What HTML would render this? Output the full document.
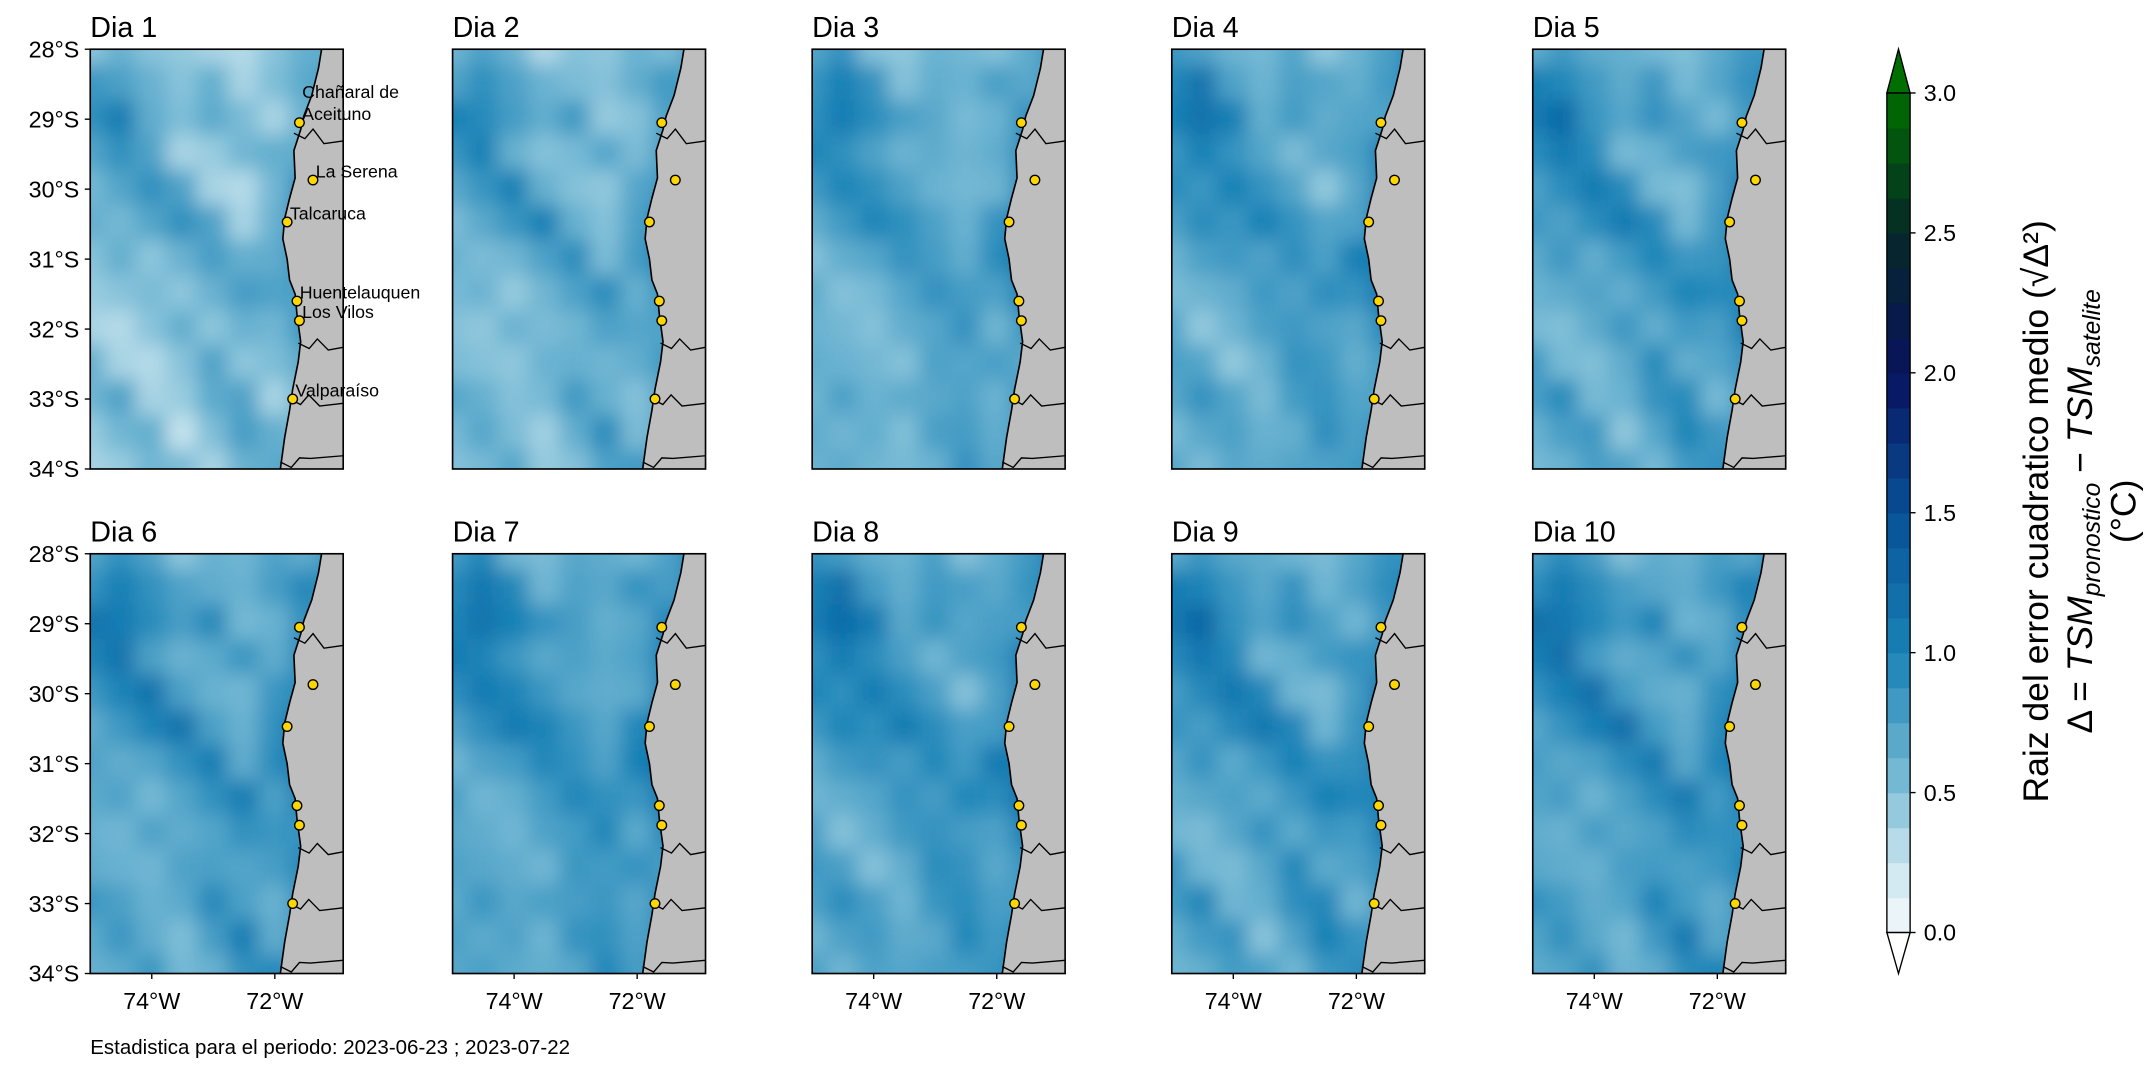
<!DOCTYPE html>
<html><head><meta charset="utf-8"><style>
body{margin:0;background:#fff;width:2144px;height:1072px;overflow:hidden;font-family:"Liberation Sans","DejaVu Sans",sans-serif;}
</style></head><body>
<svg id="fig" width="2144" height="1072" xmlns="http://www.w3.org/2000/svg" font-family="Liberation Sans, DejaVu Sans, sans-serif"></svg>
<script>
const NS='http://www.w3.org/2000/svg';
const days=['Dia 1','Dia 2','Dia 3','Dia 4','Dia 5','Dia 6','Dia 7','Dia 8','Dia 9','Dia 10'];
const dayOffset=[-0.15,-0.08,-0.02,0.03,0.04,0.05,0.07,0.08,0.07,0.09];
const latTicks=[28,29,30,31,32,33,34];
const latLabels=['28°S','29°S','30°S','31°S','32°S','33°S','34°S'];
const lonTicks=[-74,-72];
const lonLabels=['74°W','72°W'];
const cbTicks=[0,0.5,1,1.5,2,2.5,3];
const cbLabels=['0.0','0.5','1.0','1.5','2.0','2.5','3.0'];
const stNames=['Chañaral de\nAceituno','La Serena','Talcaruca','Huentelauquen','Los Vilos','Valparaíso'];
const stLon=[-71.6,-71.38,-71.8,-71.64,-71.6,-71.71];
const stLat=[29.05,29.87,30.47,31.6,31.88,33.0];
const coastLon=[-71.24,-71.29,-71.4,-71.53,-71.58,-71.69,-71.67,-71.76,-71.84,-71.87,-71.8,-71.76,-71.67,-71.64,-71.58,-71.62,-71.71,-71.76,-71.84,-71.91];
const coastLat=[28,28.27,28.66,28.96,29.15,29.45,29.84,30.13,30.42,30.71,31.0,31.3,31.5,31.79,32.18,32.47,32.86,33.16,33.55,34];
const field=[
[0.7,0.8,0.6,0.5,0.6,0.5,0.6,0.7,0.9],
[0.9,1.0,0.8,0.6,0.7,0.6,0.7,0.8,0.9],
[1.0,1.1,0.9,0.7,0.8,0.6,0.6,0.8,0.9],
[0.9,1.0,0.8,0.6,0.6,0.7,0.7,0.9,1.0],
[0.8,0.9,1.0,0.8,0.6,0.5,0.7,1.0,1.1],
[0.7,0.8,0.9,1.0,0.8,0.6,0.8,1.1,1.2],
[0.6,0.7,0.7,0.8,0.9,0.7,0.9,1.1,1.2],
[0.6,0.6,0.6,0.7,0.8,0.9,0.8,1.0,1.1],
[0.6,0.5,0.6,0.7,0.7,0.8,0.7,0.9,1.0],
[0.7,0.6,0.5,0.6,0.8,0.7,0.7,0.8,1.0],
[0.7,0.8,0.6,0.6,0.8,0.8,0.6,0.8,1.0],
[0.6,0.7,0.7,0.5,0.7,0.9,0.7,0.8,1.0],
[0.6,0.6,0.7,0.6,0.6,0.8,0.8,0.9,1.0]];
const panelX=[66,331,594,857,1121], panelY=[36,405], PW=185, PH=307;
const lon0=-75;
const svg=document.getElementById('fig');
const root=document.createElementNS(NS,'g');
root.setAttribute('transform','scale(1.3673)');
svg.appendChild(root);
function el(t,a,p){const e=document.createElementNS(NS,t);for(const k in a)e.setAttribute(k,a[k]);(p||root).appendChild(e);return e;}
const stops=[[0,[247,251,252]],[0.25,[200,228,238]],[0.5,[130,192,216]],[1.0,[24,130,182]],[1.5,[8,80,150]],[2.0,[8,18,94]],[2.5,[6,40,40]],[3.0,[0,110,0]]];
function col(v){v=Math.max(0,Math.min(3,v));for(let i=1;i<stops.length;i++){if(v<=stops[i][0]){const a=stops[i-1],b=stops[i],t=(v-a[0])/(b[0]-a[0]);const c=a[1].map((x,j)=>Math.round(x+(b[1][j]-x)*t));return 'rgb('+c.join(',')+')';}}return 'rgb(0,110,0)';}
const defs=el('defs',{});
const f=el('filter',{id:'blur',x:'-20%',y:'-20%',width:'140%',height:'140%'},defs);
el('feGaussianBlur',{stdDeviation:'7'},f);
days.forEach((d,i)=>{
  const px=panelX[i%5], py=panelY[Math.floor(i/5)];
  const X=lon=>px+(lon-lon0)*45, Y=lat=>py+(lat-28)*PH/6;
  const g=el('g',{});
  
  
  const cp=el('clipPath',{id:'cp'+i},defs);el('rect',{x:px,y:py,width:PW,height:PH},cp);
  const fg=el('g',{'clip-path':'url(#cp'+i+')'},g);
  el('rect',{x:px,y:py,width:PW,height:PH,fill:col(0.75+dayOffset[i])},fg);
  const bg=el('g',{filter:'url(#blur)'},fg);
  field.forEach((row,r)=>row.forEach((v,c)=>{
    const lon=-75+c*0.5, lat=28+r*0.5;
    const cell=el('rect',{x:X(lon)-12,y:Y(lat)-14,width:24,height:28,fill:col(v+dayOffset[i]+((r*3+c*5+i)%4-1.5)*0.06)},bg);
    
    
  }));
  let pts=coastLon.map((l,k)=>X(l)+','+Y(coastLat[k])).join(' ');
  const land=el('polygon',{points:pts+' '+(px+PW+5)+','+(py+PH)+' '+(px+PW+5)+','+py,fill:'#bebebe',stroke:'none'},fg);
  
  
  el('polyline',{points:pts,fill:'none',stroke:'#000','stroke-width':1.2},fg);
  [[29.2,29.35],[32.2,32.3],[33.0,33.1],[33.9,33.85]].forEach(b=>{
    const ci=coastLat.findIndex(v=>v>=b[0]);const cx=X(coastLon[ci]);
    el('polyline',{points:`${cx},${Y(b[0])} ${cx+8},${Y(b[0])+4} ${cx+14},${Y(b[0])-3} ${cx+22},${Y(b[1])} ${px+PW},${Y(b[1])-2}`,fill:'none',stroke:'#000','stroke-width':1},fg);
  });
  el('rect',{x:px,y:py,width:PW,height:PH,fill:'none',stroke:'#000','stroke-width':1.2},g);
  stLon.forEach((l,k)=>{
    const c=el('circle',{cx:X(l),cy:Y(stLat[k]),r:3.5,fill:'#ffd700',stroke:'#000','stroke-width':1},g);
    
    
    if(i===0){const lines=stNames[k].split('\n');lines.forEach((s,m)=>{const t=el('text',{x:X(l)+2,y:Y(stLat[k])-(lines.length-1-m)*16-2,'font-size':13},g);t.textContent=s;
      });}
  });
  const tt=el('text',{x:px,y:py-9,'font-size':21},g);tt.textContent=d;
  
  if(i%5===0) latTicks.forEach((lt,k)=>{el('line',{x1:px-4,x2:px,y1:Y(lt),y2:Y(lt),stroke:'#000'},g);
    const t=el('text',{x:px-8,y:Y(lt)+6,'font-size':17,'text-anchor':'end'},g);t.textContent=latLabels[k];
    });
  if(i>=5) lonTicks.forEach((ln,k)=>{el('line',{x1:X(ln),x2:X(ln),y1:py+PH,y2:py+PH+4,stroke:'#000'},g);
    const t=el('text',{x:X(ln),y:py+PH+26,'font-size':17,'text-anchor':'middle'},g);t.textContent=lonLabels[k];
    });
});
const cb=el('g',{});


const cbX=1380,cbW=17,cbTop=68,cbBot=682;
const CY=v=>cbBot-(v/3)*(cbBot-cbTop);
for(let v=0;v<3;v+=0.125){el('rect',{x:cbX,y:CY(v+0.125),width:cbW,height:CY(v)-CY(v+0.125)+0.5,fill:col(v+0.0625)},cb);}
el('polygon',{points:`${cbX},${cbTop} ${cbX+cbW/2},36 ${cbX+cbW},${cbTop}`,fill:col(3),stroke:'#000'},cb);
el('polygon',{points:`${cbX},${cbBot} ${cbX+cbW/2},712 ${cbX+cbW},${cbBot}`,fill:'#fff',stroke:'#000'},cb);
el('rect',{x:cbX,y:cbTop,width:cbW,height:cbBot-cbTop,fill:'none',stroke:'#000'},cb);
cbTicks.forEach((v,k)=>{el('line',{x1:cbX+cbW,x2:cbX+cbW+4,y1:CY(v),y2:CY(v),stroke:'#000'},cb);
  const t=el('text',{x:cbX+cbW+10,y:CY(v)+6,'font-size':17},cb);t.textContent=cbLabels[k];
  });
const lab=el('text',{transform:'translate(1498,374) rotate(-90)','font-size':26,'text-anchor':'middle'},cb);
lab.textContent='Raiz del error cuadratico medio (√Δ²)';

const lab2=el('text',{transform:'translate(1530,374) rotate(-90)','font-size':26,'text-anchor':'middle'},cb);
lab2.innerHTML='Δ = <tspan font-style="italic">TSM</tspan><tspan font-size="18" dy="6" font-style="italic">pronostico</tspan><tspan dy="-6"> − </tspan><tspan font-style="italic">TSM</tspan><tspan font-size="18" dy="6" font-style="italic">satelite</tspan>';

const lab3=el('text',{transform:'translate(1562,374) rotate(-90)','font-size':26,'text-anchor':'middle'},cb);
lab3.textContent='(°C)';

const ft=el('text',{x:66,y:771,'font-size':15});ft.textContent='Estadistica para el periodo: 2023-06-23 ; 2023-07-22';

</script>
</body></html>
